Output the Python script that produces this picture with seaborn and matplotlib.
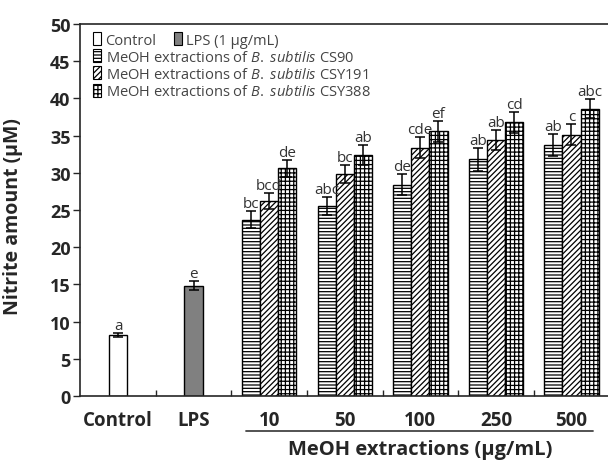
import numpy as np
import pandas as pd
import matplotlib
matplotlib.use('Agg')
import matplotlib.pyplot as plt
from matplotlib.patches import Patch
import matplotlib.transforms as mtransforms
import seaborn as sns

# ---------------- data ----------------
categories = ['Control', 'LPS', '10', '50', '100', '250', '500']
ref_labels = ['Control', 'LPS']
ref_values = [8.2, 14.8]
ref_errors = [0.3, 0.6]
ref_letters = ['a', 'e']

doses = ['10', '50', '100', '250', '500']
strains = ['CS90', 'CSY191', 'CSY388']
cs90_values = [23.7, 25.5, 28.4, 31.8, 33.7]
cs90_errors = [1.1, 1.2, 1.4, 1.5, 1.5]
cs90_letters = ['bc', 'abc', 'de', 'ab', 'ab']
csy191_values = [26.2, 29.8, 33.4, 34.4, 35.1]
csy191_errors = [1.1, 1.2, 1.4, 1.3, 1.4]
csy191_letters = ['bcd', 'bc', 'cde', 'ab', 'c']
csy388_values = [30.6, 32.4, 35.6, 36.8, 38.6]
csy388_errors = [1.1, 1.3, 1.4, 1.4, 1.3]
csy388_letters = ['de', 'ab', 'ef', 'cd', 'abc']
yticks = [0, 5, 10, 15, 20, 25, 30, 35, 40, 45, 50]

ylabel = 'Nitrite amount (μM)'
xlabel = 'MeOH extractions (μg/mL)'
legend_ref = ['Control', 'LPS (1 μg/mL)']
legend_strains = [r'MeOH extractions of $\it{B.\ subtilis}$ CS90',
                  r'MeOH extractions of $\it{B.\ subtilis}$ CSY191',
                  r'MeOH extractions of $\it{B.\ subtilis}$ CSY388']

# ---------------- style ----------------
sns.set_style('ticks')
plt.rcParams['font.family'] = ['Open Sans', 'DejaVu Sans']
plt.rcParams['mathtext.fontset'] = 'custom'
plt.rcParams['mathtext.it'] = 'Open Sans:italic'
plt.rcParams['mathtext.rm'] = 'Open Sans'
plt.rcParams['hatch.linewidth'] = 0.9
plt.rcParams['axes.linewidth'] = 1.2

ref_colors = {'Control': '#ffffff', 'LPS': '#808080'}
strain_hatch = {'CS90': '-----', 'CSY191': '//////', 'CSY388': '++++'}

fig = plt.figure(figsize=(6.08, 4.64), dpi=100)
ax = fig.add_axes([0.132, 0.1444, 0.870, 0.8017])

ref_df = pd.DataFrame({'cat': ref_labels, 'val': ref_values})
sns.barplot(data=ref_df, x='cat', y='val', hue='cat', order=categories,
            hue_order=ref_labels, palette=ref_colors, width=0.25,
            saturation=1, edgecolor='black', linewidth=1.0,
            errorbar=None, legend=False, ax=ax)
n_ref_cont = len(ax.containers)

rows = []
for s, vals in zip(strains, [cs90_values, csy191_values, csy388_values]):
    for d, v in zip(doses, vals):
        rows.append({'cat': d, 'strain': s, 'val': v})
grp_df = pd.DataFrame(rows)
sns.barplot(data=grp_df, x='cat', y='val', hue='strain', order=categories,
            hue_order=strains, palette={s: '#ffffff' for s in strains},
            width=0.72, saturation=1, edgecolor='black', linewidth=1.0,
            errorbar=None, legend=False, ax=ax)

# hatches
for cont, s in zip(ax.containers[n_ref_cont:], strains):
    for p in cont.patches:
        p.set_hatch(strain_hatch[s])
        p.set_edgecolor('black')
        p.set_facecolor('white')

# error bars and letters
def annotate(patches, errs, letters):
    patches = sorted(patches, key=lambda p: p.get_x())
    for p, e, l in zip(patches, errs, letters):
        xc = p.get_x() + p.get_width() / 2
        h = p.get_height()
        ax.errorbar(xc, h, yerr=e, fmt='none', ecolor='black',
                    elinewidth=1.1, capsize=3.8, capthick=1.1, zorder=5)
        ax.annotate(l, (xc, h + e), xytext=(0, 0.0), textcoords='offset points',
                    ha='center', va='bottom', fontsize=11, color='#333333')

for cont, e, l in zip(ax.containers[:n_ref_cont], ref_errors, ref_letters):
    annotate(cont.patches, [e], [l])
for cont, e, l in zip(ax.containers[n_ref_cont:],
                      [cs90_errors, csy191_errors, csy388_errors],
                      [cs90_letters, csy191_letters, csy388_letters]):
    annotate(cont.patches, e, l)

# axes
ax.set_xlim(-0.5, len(categories) - 0.5)
ax.set_ylim(0, 50)
ax.set_yticks(yticks)
ax.set_yticklabels([str(t) for t in yticks], fontsize=13, fontweight='bold')
ax.set_xticks(range(len(categories)))
ax.set_xticklabels(categories, fontsize=13.5, fontweight='bold')
ax.set_xticks(np.arange(0.5, len(categories) - 0.5, 1.0), minor=True)
ax.tick_params(axis='x', which='major', length=0, pad=10)
ax.tick_params(axis='x', which='minor', direction='in', length=4, width=1)
ax.tick_params(axis='y', which='major', direction='out', length=5, width=1, pad=2)
ax.set_xlabel('')
ax.set_ylabel(ylabel, fontsize=14, fontweight='bold')
ax.yaxis.set_label_coords(-0.108, 0.484)
ax.spines['right'].set_visible(False)
ax.spines['top'].set_visible(True)

# group underline and label
trans = mtransforms.blended_transform_factory(ax.transData, ax.transAxes)
dose_pos = [categories.index(d) for d in doses]
ax.plot([dose_pos[0] - 0.31, dose_pos[-1] + 0.29], [-0.094, -0.094],
        color='#444444', lw=1.3, transform=trans, clip_on=False)
ax.text(np.mean(dose_pos), -0.143, xlabel, transform=trans, ha='center',
        va='center', fontsize=14.5, fontweight='bold')

# legend
h_ref = [Patch(facecolor=ref_colors[c], edgecolor='black', lw=0.8) for c in ref_labels]
h_str = [Patch(facecolor='white', edgecolor='black', hatch=strain_hatch[s], lw=0.8)
         for s in strains]
leg1 = ax.legend(h_ref, legend_ref, ncol=2, loc='upper left',
                 bbox_to_anchor=(0.005, 1.005), frameon=False, fontsize=10.5,
                 handlelength=0.55, handleheight=1.0, handletextpad=0.3,
                 columnspacing=1.2, borderaxespad=0.3)
for t in leg1.get_texts():
    t.set_color('#444444')
ax.add_artist(leg1)
leg2 = ax.legend(h_str, legend_strains, loc='upper left',
                 bbox_to_anchor=(0.005, 0.96), frameon=False, fontsize=10.5,
                 handlelength=0.55, handleheight=1.0, handletextpad=0.3,
                 labelspacing=0.12, borderaxespad=0.3)
for t in leg2.get_texts():
    t.set_color('#444444')

fig.savefig('out.png', dpi=100)
